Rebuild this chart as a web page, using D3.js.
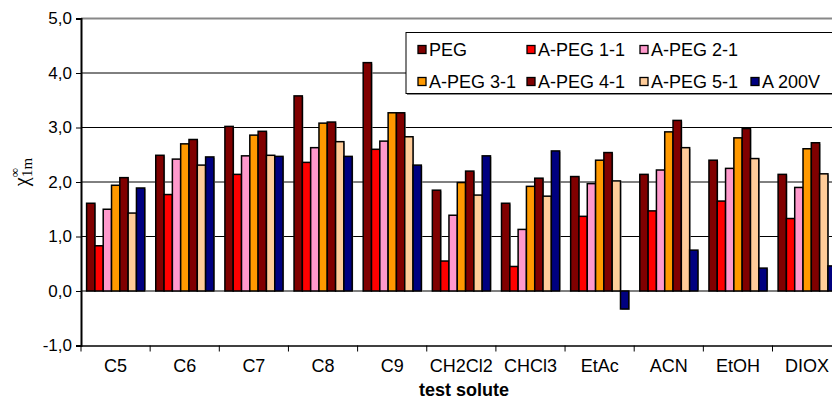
<!DOCTYPE html>
<html>
<head>
<meta charset="utf-8">
<script src="https://cdn.jsdelivr.net/npm/d3@7"></script>
<style>
  html, body { margin: 0; padding: 0; background: #fff; overflow: hidden; }
  body { width: 832px; height: 400px; }
  text { font-family: "Liberation Sans", Arial, sans-serif; }
</style>
</head>
<body>
<div class="chart"></div>
<script>
var solutes = ["C5", "C6", "C7", "C8", "C9", "CH2Cl2", "CHCl3", "EtAc", "ACN", "EtOH", "DIOX"];
var seriesNames = ["PEG", "A-PEG 1-1", "A-PEG 2-1", "A-PEG 3-1", "A-PEG 4-1", "A-PEG 5-1", "A 200V"];
var colors = ["#800000", "#ff0000", "#ff99cc", "#ff9900", "#800000", "#ffcc99", "#000080"];

var peg    = [1.61, 2.49, 3.02, 3.58, 4.19, 1.85, 1.61, 2.10, 2.14, 2.40, 2.14];
var apeg11 = [0.83, 1.77, 2.14, 2.36, 2.60, 0.55, 0.45, 1.37, 1.47, 1.65, 1.33];
var apeg21 = [1.50, 2.42, 2.48, 2.63, 2.75, 1.39, 1.13, 1.97, 2.22, 2.25, 1.90];
var apeg31 = [1.94, 2.70, 2.86, 3.08, 3.27, 1.99, 1.92, 2.40, 2.92, 2.81, 2.61];
var apeg41 = [2.08, 2.78, 2.93, 3.10, 3.27, 2.20, 2.07, 2.54, 3.13, 2.98, 2.72];
var apeg51 = [1.43, 2.31, 2.49, 2.74, 2.83, 1.76, 1.74, 2.02, 2.63, 2.43, 2.15];
var a200v  = [1.89, 2.46, 2.47, 2.47, 2.31, 2.48, 2.57, -0.33, 0.75, 0.42, 0.46];
var yTicks = [-1, 0, 1, 2, 3, 4, 5];

var allSeries = [peg, apeg11, apeg21, apeg31, apeg41, apeg51, a200v];

var width = 850, height = 400;
var plotLeft = 81, plotTop = 18.5, plotBottom = 345.5;
var plotRight = plotLeft + 69.15 * solutes.length;

var svg = d3.select(".chart").append("svg")
  .attr("width", width)
  .attr("height", height);

var x0 = d3.scaleBand().domain(solutes).range([plotLeft, plotRight]).padding(0);
var x1 = d3.scaleBand().domain(d3.range(seriesNames.length))
  .range([5.6, x0.bandwidth() - 5.4]).padding(0);
var y = d3.scaleLinear().domain([-1, 5]).range([plotBottom, plotTop]);

// gridlines
svg.append("g").selectAll("line")
  .data([0, 1, 2, 3, 4])
  .enter().append("line")
  .attr("x1", plotLeft).attr("x2", plotRight)
  .attr("y1", function (d) { return y(d); })
  .attr("y2", function (d) { return y(d); })
  .attr("stroke", "#000").attr("stroke-width", 1);

// top border
svg.append("line")
  .attr("x1", plotLeft).attr("x2", plotRight)
  .attr("y1", y(5)).attr("y2", y(5))
  .attr("stroke", "#888").attr("stroke-width", 2);

// bars
var rows = [];
solutes.forEach(function (s, i) {
  allSeries.forEach(function (arr, j) {
    rows.push({ solute: s, series: j, value: arr[i] });
  });
});

var bars = svg.append("g").selectAll("g").data(rows).enter().append("g");

bars.append("rect")
  .attr("x", function (d) { return x0(d.solute) + x1(d.series) + 1; })
  .attr("y", function (d) { return Math.min(y(d.value), y(0)) + 1; })
  .attr("width", x1.bandwidth())
  .attr("height", function (d) { return Math.abs(y(d.value) - y(0)); })
  .attr("fill", "#aaa");

bars.append("rect")
  .attr("x", function (d) { return x0(d.solute) + x1(d.series); })
  .attr("y", function (d) { return Math.min(y(d.value), y(0)); })
  .attr("width", x1.bandwidth())
  .attr("height", function (d) { return Math.abs(y(d.value) - y(0)); })
  .attr("fill", function (d) { return colors[d.series]; })
  .attr("stroke", "#000")
  .attr("stroke-width", 1.5);

// y axis
var yAxis = svg.append("g")
  .attr("transform", "translate(" + plotLeft + ",0)")
  .call(d3.axisLeft(y).tickValues(yTicks).tickSize(5).tickPadding(4)
    .tickFormat(function (d) { return d.toFixed(1).replace(".", ","); }));
yAxis.select(".domain").attr("stroke", "#000").attr("stroke-width", 2);
yAxis.selectAll("text").attr("font-size", 17).attr("fill", "#000");

// x axis
var xAxis = svg.append("g")
  .attr("transform", "translate(0," + plotBottom + ")")
  .call(d3.axisBottom(x0).tickSize(0).tickPadding(14));
xAxis.select(".domain").attr("stroke", "#000").attr("stroke-width", 1.5);
xAxis.selectAll("text").attr("font-size", 18).attr("fill", "#000");
xAxis.append("g").selectAll("line")
  .data(solutes.concat([null]))
  .enter().append("line")
  .attr("x1", function (d, i) { return plotLeft + i * x0.step(); })
  .attr("x2", function (d, i) { return plotLeft + i * x0.step(); })
  .attr("y1", 0).attr("y2", 6)
  .attr("stroke", "#000");

// axis titles
svg.append("text")
  .attr("x", 464)
  .attr("y", 396)
  .attr("text-anchor", "middle")
  .attr("font-size", 18)
  .attr("font-weight", "bold")
  .text("test solute");

var yl = svg.append("text")
  .attr("transform", "translate(28,172) rotate(-90)")
  .attr("text-anchor", "middle")
  .style("font-family", "'Liberation Serif', 'Times New Roman', serif")
  .attr("font-size", 20);
yl.append("tspan").text("\u03c7");
yl.append("tspan").attr("font-size", 13).attr("dy", -9).text("\u221e");
yl.append("tspan").attr("font-size", 15).attr("dx", -9).attr("dy", 13).text("1m");

// legend
var legend = svg.append("g");
legend.append("rect")
  .attr("x", 407).attr("y", 34).attr("width", 500).attr("height", 61)
  .attr("fill", "#888");
legend.append("rect")
  .attr("x", 406).attr("y", 32.5).attr("width", 500).attr("height", 61)
  .attr("fill", "#fff").attr("stroke", "#000").attr("stroke-width", 1);

var legendCols = [418, 527, 640, 751];
var legendItems = [
  { i: 0, col: 0, row: 0 }, { i: 1, col: 1, row: 0 }, { i: 2, col: 2, row: 0 },
  { i: 3, col: 0, row: 1 }, { i: 4, col: 1, row: 1 }, { i: 5, col: 2, row: 1 }, { i: 6, col: 3, row: 1 }
];
var li = legend.selectAll(".li").data(legendItems).enter().append("g")
  .attr("transform", function (d) {
    return "translate(" + legendCols[d.col] + "," + (d.row === 0 ? 50 : 82) + ")";
  });
li.append("rect")
  .attr("x", 0).attr("y", -4.5).attr("width", 8).attr("height", 8)
  .attr("fill", function (d) { return colors[d.i]; })
  .attr("stroke", "#000").attr("stroke-width", 1.3);
li.append("text")
  .attr("x", 11).attr("y", 6)
  .attr("font-size", 18)
  .text(function (d) { return seriesNames[d.i]; });
</script>
</body>
</html>
